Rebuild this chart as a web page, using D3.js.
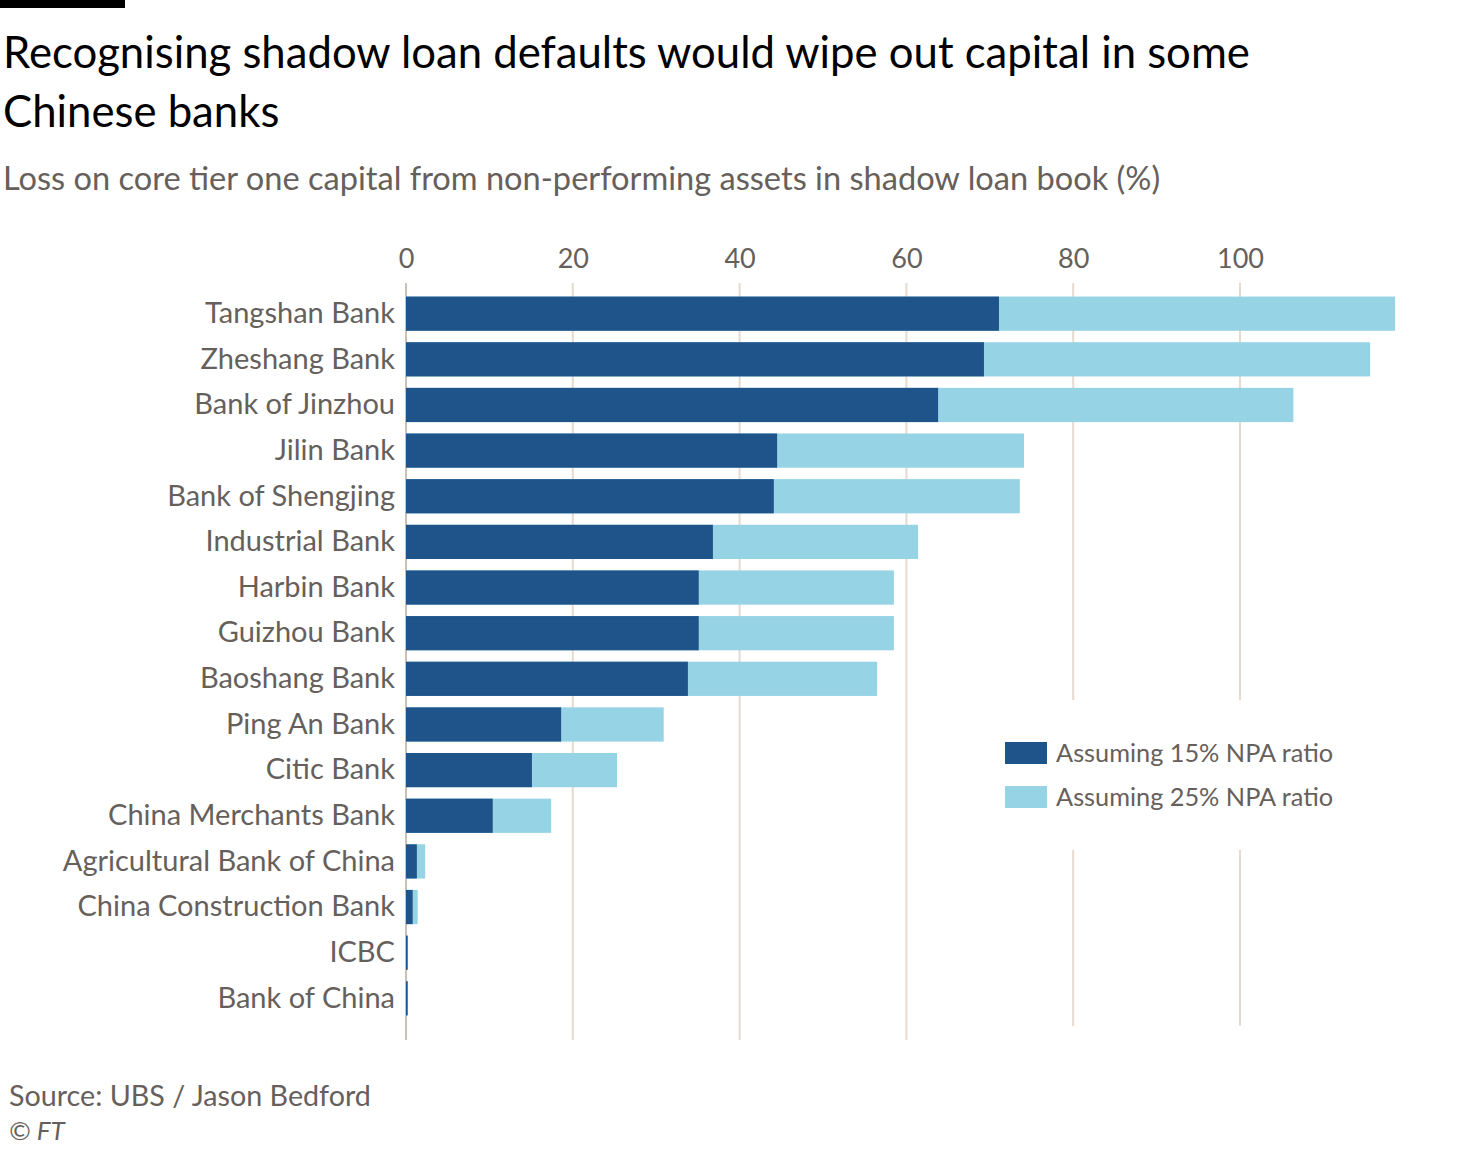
<!DOCTYPE html>
<html>
<head>
<meta charset="utf-8">
<script src="https://cdn.jsdelivr.net/npm/d3@7"></script>
<style>
  html, body { margin: 0; padding: 0; background: #ffffff; }
  svg { display: block; font-family: Lato, "Noto Sans", sans-serif; }
</style>
</head>
<body>
<script>
const banks = [
  "Tangshan Bank", "Zheshang Bank", "Bank of Jinzhou", "Jilin Bank",
  "Bank of Shengjing", "Industrial Bank", "Harbin Bank", "Guizhou Bank",
  "Baoshang Bank", "Ping An Bank", "Citic Bank", "China Merchants Bank",
  "Agricultural Bank of China", "China Construction Bank", "ICBC", "Bank of China"
];
const npa15 = [71.1, 69.3, 63.8, 44.5, 44.1, 36.8, 35.1, 35.1, 33.8, 18.6, 15.1, 10.4, 1.3, 0.8, 0.2, 0.2];
const npa25 = [118.6, 115.6, 106.4, 74.1, 73.6, 61.4, 58.5, 58.5, 56.5, 30.9, 25.3, 17.4, 2.3, 1.4, 0.2, 0.2];
const xTicks = [0, 20, 40, 60, 80, 100];
const seriesNames = ["Assuming 15% NPA ratio", "Assuming 25% NPA ratio"];
const seriesColors = ["#1f548b", "#96d3e5"];

const W = 1458, H = 1156;
const svg = d3.select("body").append("svg").attr("width", W).attr("height", H);

// top black bar
svg.append("rect").attr("x", 0).attr("y", 0).attr("width", 125).attr("height", 8).attr("fill", "#000");

// titles
const title = svg.append("text").attr("x", 3).attr("y", 68).attr("fill", "#000")
  .style("font-size", "43.7px");
title.append("tspan").attr("x", 3).text("Recognising shadow loan defaults would wipe out capital in some");
title.append("tspan").attr("x", 3).attr("dy", 59).text("Chinese banks");
svg.append("text").attr("x", 3).attr("y", 190).attr("fill", "#66605c")
  .style("font-size", "32.6px")
  .text("Loss on core tier one capital from non-performing assets in shadow loan book (%)");

const x = d3.scaleLinear().domain([0, 100]).range([406, 1240]);
const y = d3.scaleBand().domain(banks).range([292, 1020]).paddingInner(0.25).paddingOuter(0.1);

// gridlines
const g = svg.append("g");
g.selectAll("line.grid").data(xTicks).join("line")
  .attr("class", "grid")
  .attr("x1", d => x(d)).attr("x2", d => x(d))
  .attr("y1", 283).attr("y2", d => d >= 80 ? 1026 : 1040)
  .attr("stroke", d => d === 0 ? "#ccc1b7" : "#e6d9ce")
  .attr("stroke-width", 2);

// x axis labels (top)
const xAxis = d3.axisTop(x).tickValues(xTicks).tickSize(0).tickPadding(0);
const ax = svg.append("g").attr("transform", "translate(0,268)").call(xAxis);
ax.select(".domain").remove();
ax.selectAll("text").attr("fill", "#66605c").style("font-size", "27px")
  .style("font-family", "Lato, 'Noto Sans', sans-serif").attr("dy", 0);

// bars
const bars = svg.append("g");
bars.selectAll("rect.b25").data(banks).join("rect")
  .attr("class", "b25")
  .attr("x", x(0)).attr("y", d => y(d))
  .attr("width", (d, i) => x(npa25[i]) - x(0))
  .attr("height", y.bandwidth())
  .attr("fill", seriesColors[1]);
bars.selectAll("rect.b15").data(banks).join("rect")
  .attr("class", "b15")
  .attr("x", x(0)).attr("y", d => y(d))
  .attr("width", (d, i) => x(npa15[i]) - x(0))
  .attr("height", y.bandwidth())
  .attr("fill", seriesColors[0]);

// y labels
const yAxis = d3.axisLeft(y).tickSize(0).tickPadding(0);
const ay = svg.append("g").attr("transform", "translate(395,0)").call(yAxis);
ay.select(".domain").remove();
ay.selectAll("text").attr("fill", "#66605c").style("font-size", "29px")
  .style("font-family", "Lato, 'Noto Sans', sans-serif");

// legend
const leg = svg.append("g").attr("transform", "translate(990,700)");
leg.append("rect").attr("x", 0).attr("y", 0).attr("width", 360).attr("height", 150).attr("fill", "#fff");
seriesNames.forEach((s, i) => {
  leg.append("rect").attr("x", 15).attr("y", 42 + i * 44).attr("width", 42).attr("height", 22)
    .attr("fill", seriesColors[i]);
  leg.append("text").attr("x", 66).attr("y", 53 + i * 44).attr("dy", "0.35em")
    .attr("fill", "#66605c").style("font-size", "25.3px").text(s);
});

// source
svg.append("text").attr("x", 9).attr("y", 1106).attr("fill", "#66605c").style("font-size", "28.7px")
  .text("Source: UBS / Jason Bedford");
svg.append("text").attr("x", 9).attr("y", 1140).attr("fill", "#66605c").style("font-size", "26px")
  .style("font-style", "italic").text("© FT");
</script>
</body>
</html>
